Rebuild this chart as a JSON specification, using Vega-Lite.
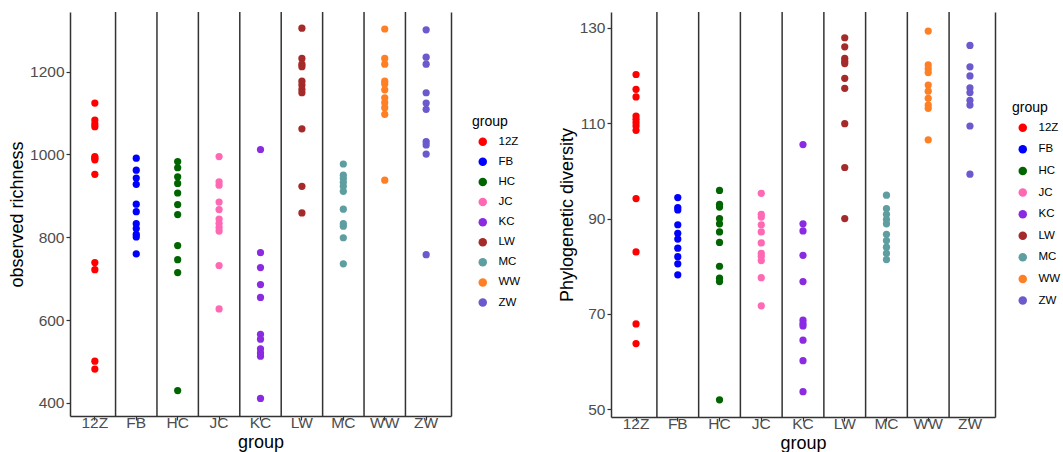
{
  "$schema": "https://vega.github.io/schema/vega-lite/v6.json",
  "autosize": {"type": "pad"},
  "padding": {"left": 8, "top": 11, "right": 0, "bottom": 0},
  "config": {
    "font": "Liberation Sans",
    "view": {"stroke": null},
    "concat": {"spacing": 37},
    "axis": {
      "grid": false,
      "domainColor": "#333333",
      "domainWidth": 1.5,
      "tickColor": "#333333",
      "tickSize": 4,
      "tickWidth": 1.2,
      "labelColor": "#4d4d4d",
      "labelFontSize": 15.5,
      "labelPadding": 2,
      "titleFontSize": 18,
      "titleFontWeight": "normal",
      "titleColor": "#000000",
      "titlePadding": 3
    },
    "legend": {
      "titleFontSize": 14,
      "titleFontWeight": "normal",
      "titleColor": "#000000",
      "labelFontSize": 11.5,
      "labelColor": "#000000",
      "symbolType": "circle",
      "symbolSize": 72,
      "symbolStrokeWidth": 0,
      "symbolOpacity": 1,
      "symbolOffset": 5,
      "labelOffset": 10,
      "titlePadding": 7
    }
  },
  "datasets": {
    "bounds": [
      {"group": "FB"}, {"group": "HC"}, {"group": "JC"}, {"group": "KC"},
      {"group": "LW"}, {"group": "MC"}, {"group": "WW"}, {"group": "ZW"}
    ],
    "richness": [
      {"group": "12Z", "value": 1124}, {"group": "12Z", "value": 1083}, {"group": "12Z", "value": 1074}, {"group": "12Z", "value": 1067},
      {"group": "12Z", "value": 995}, {"group": "12Z", "value": 991}, {"group": "12Z", "value": 987}, {"group": "12Z", "value": 952},
      {"group": "12Z", "value": 739}, {"group": "12Z", "value": 722}, {"group": "12Z", "value": 501}, {"group": "12Z", "value": 482},
      {"group": "FB", "value": 991}, {"group": "FB", "value": 962}, {"group": "FB", "value": 943}, {"group": "FB", "value": 928},
      {"group": "FB", "value": 880}, {"group": "FB", "value": 862}, {"group": "FB", "value": 833}, {"group": "FB", "value": 821},
      {"group": "FB", "value": 807}, {"group": "FB", "value": 801}, {"group": "FB", "value": 760},
      {"group": "HC", "value": 983}, {"group": "HC", "value": 968}, {"group": "HC", "value": 946}, {"group": "HC", "value": 930},
      {"group": "HC", "value": 907}, {"group": "HC", "value": 879}, {"group": "HC", "value": 855}, {"group": "HC", "value": 780},
      {"group": "HC", "value": 746}, {"group": "HC", "value": 715}, {"group": "HC", "value": 430},
      {"group": "JC", "value": 995}, {"group": "JC", "value": 934}, {"group": "JC", "value": 926}, {"group": "JC", "value": 885},
      {"group": "JC", "value": 867}, {"group": "JC", "value": 844}, {"group": "JC", "value": 834}, {"group": "JC", "value": 824},
      {"group": "JC", "value": 815}, {"group": "JC", "value": 732}, {"group": "JC", "value": 627},
      {"group": "KC", "value": 1012}, {"group": "KC", "value": 763}, {"group": "KC", "value": 727}, {"group": "KC", "value": 686},
      {"group": "KC", "value": 655}, {"group": "KC", "value": 566}, {"group": "KC", "value": 554}, {"group": "KC", "value": 531},
      {"group": "KC", "value": 521}, {"group": "KC", "value": 513}, {"group": "KC", "value": 411},
      {"group": "LW", "value": 1305}, {"group": "LW", "value": 1232}, {"group": "LW", "value": 1218}, {"group": "LW", "value": 1212},
      {"group": "LW", "value": 1177}, {"group": "LW", "value": 1168}, {"group": "LW", "value": 1157}, {"group": "LW", "value": 1149},
      {"group": "LW", "value": 1062}, {"group": "LW", "value": 923}, {"group": "LW", "value": 859},
      {"group": "MC", "value": 977}, {"group": "MC", "value": 950}, {"group": "MC", "value": 942}, {"group": "MC", "value": 933},
      {"group": "MC", "value": 923}, {"group": "MC", "value": 911}, {"group": "MC", "value": 868}, {"group": "MC", "value": 833},
      {"group": "MC", "value": 827}, {"group": "MC", "value": 799}, {"group": "MC", "value": 736},
      {"group": "WW", "value": 1303}, {"group": "WW", "value": 1232}, {"group": "WW", "value": 1218}, {"group": "WW", "value": 1177},
      {"group": "WW", "value": 1170}, {"group": "WW", "value": 1156}, {"group": "WW", "value": 1137}, {"group": "WW", "value": 1125},
      {"group": "WW", "value": 1113}, {"group": "WW", "value": 1097}, {"group": "WW", "value": 938},
      {"group": "ZW", "value": 1301}, {"group": "ZW", "value": 1235}, {"group": "ZW", "value": 1218}, {"group": "ZW", "value": 1149},
      {"group": "ZW", "value": 1124}, {"group": "ZW", "value": 1109}, {"group": "ZW", "value": 1031}, {"group": "ZW", "value": 1023},
      {"group": "ZW", "value": 1001}, {"group": "ZW", "value": 758}
    ],
    "pd": [
      {"group": "12Z", "value": 120.2}, {"group": "12Z", "value": 117.1}, {"group": "12Z", "value": 115.5}, {"group": "12Z", "value": 111.5},
      {"group": "12Z", "value": 110.8}, {"group": "12Z", "value": 110.1}, {"group": "12Z", "value": 109.4}, {"group": "12Z", "value": 108.5},
      {"group": "12Z", "value": 94.2}, {"group": "12Z", "value": 83.0}, {"group": "12Z", "value": 67.9}, {"group": "12Z", "value": 63.8},
      {"group": "FB", "value": 94.4}, {"group": "FB", "value": 92.3}, {"group": "FB", "value": 91.8}, {"group": "FB", "value": 88.7},
      {"group": "FB", "value": 86.9}, {"group": "FB", "value": 85.7}, {"group": "FB", "value": 83.8}, {"group": "FB", "value": 82.0},
      {"group": "FB", "value": 80.5}, {"group": "FB", "value": 78.2},
      {"group": "HC", "value": 95.9}, {"group": "HC", "value": 93.0}, {"group": "HC", "value": 92.4}, {"group": "HC", "value": 90.0},
      {"group": "HC", "value": 88.9}, {"group": "HC", "value": 87.2}, {"group": "HC", "value": 85.0}, {"group": "HC", "value": 80.0},
      {"group": "HC", "value": 77.5}, {"group": "HC", "value": 76.8}, {"group": "HC", "value": 52.0},
      {"group": "JC", "value": 95.3}, {"group": "JC", "value": 90.9}, {"group": "JC", "value": 90.3}, {"group": "JC", "value": 88.7},
      {"group": "JC", "value": 87.2}, {"group": "JC", "value": 84.9}, {"group": "JC", "value": 82.7}, {"group": "JC", "value": 82.1},
      {"group": "JC", "value": 81.2}, {"group": "JC", "value": 77.6}, {"group": "JC", "value": 71.7},
      {"group": "KC", "value": 105.5}, {"group": "KC", "value": 88.9}, {"group": "KC", "value": 87.4}, {"group": "KC", "value": 82.3},
      {"group": "KC", "value": 76.8}, {"group": "KC", "value": 68.7}, {"group": "KC", "value": 68.0}, {"group": "KC", "value": 67.5},
      {"group": "KC", "value": 64.5}, {"group": "KC", "value": 60.2}, {"group": "KC", "value": 53.7},
      {"group": "LW", "value": 127.9}, {"group": "LW", "value": 126.0}, {"group": "LW", "value": 123.6}, {"group": "LW", "value": 123.0},
      {"group": "LW", "value": 122.5}, {"group": "LW", "value": 119.4}, {"group": "LW", "value": 117.3}, {"group": "LW", "value": 109.9},
      {"group": "LW", "value": 100.7}, {"group": "LW", "value": 90.0},
      {"group": "MC", "value": 94.9}, {"group": "MC", "value": 92.1}, {"group": "MC", "value": 90.9}, {"group": "MC", "value": 89.8},
      {"group": "MC", "value": 88.9}, {"group": "MC", "value": 86.7}, {"group": "MC", "value": 85.4}, {"group": "MC", "value": 84.0},
      {"group": "MC", "value": 82.7}, {"group": "MC", "value": 81.4},
      {"group": "WW", "value": 129.3}, {"group": "WW", "value": 122.2}, {"group": "WW", "value": 121.4}, {"group": "WW", "value": 120.6},
      {"group": "WW", "value": 118.0}, {"group": "WW", "value": 116.7}, {"group": "WW", "value": 115.2}, {"group": "WW", "value": 113.8},
      {"group": "WW", "value": 113.1}, {"group": "WW", "value": 106.5},
      {"group": "ZW", "value": 126.3}, {"group": "ZW", "value": 121.8}, {"group": "ZW", "value": 119.9}, {"group": "ZW", "value": 117.4},
      {"group": "ZW", "value": 116.4}, {"group": "ZW", "value": 114.8}, {"group": "ZW", "value": 113.8}, {"group": "ZW", "value": 109.4},
      {"group": "ZW", "value": 99.3}
    ]
  },
  "hconcat": [
    {
      "width": 381,
      "height": 404,
      "layer": [
        {
          "data": {"name": "bounds"},
          "mark": {"type": "rule", "color": "#333333", "strokeWidth": 1.5},
          "encoding": {
            "x": {"field": "group", "type": "nominal", "bandPosition": 0}
          }
        },
        {
          "data": {"name": "richness"},
          "mark": {"type": "circle", "size": 52, "opacity": 1},
          "encoding": {
            "x": {
              "field": "group", "type": "nominal",
              "scale": {"type": "band", "domain": ["12Z", "FB", "HC", "JC", "KC", "LW", "MC", "WW", "ZW"], "paddingInner": 0, "paddingOuter": 0.1},
              "axis": {"title": "group", "labelAngle": 0, "labelAlign": "center", "bandPosition": 0.5, "titlePadding": 3}
            },
            "y": {
              "field": "value", "type": "quantitative",
              "scale": {"domain": [368.6, 1344], "nice": false, "zero": false},
              "axis": {"title": "observed richness", "values": [400, 600, 800, 1000, 1200], "format": "d"}
            },
            "color": {
              "field": "group", "type": "nominal",
              "scale": {"domain": ["12Z", "FB", "HC", "JC", "KC", "LW", "MC", "WW", "ZW"], "range": ["#FF0000", "#0000FF", "#006400", "#FF69B4", "#8A2BE2", "#A52A2A", "#5F9EA0", "#FF7F24", "#6A5ACD"]},
              "legend": {"title": "group", "orient": "none", "legendX": 402, "legendY": 103, "rowPadding": 7.1}
            }
          }
        },
        {
          "data": {"name": "richness"},
          "mark": {"type": "circle", "opacity": 0},
          "encoding": {
            "x": {"field": "group", "type": "nominal"},
            "y": {"field": "value", "type": "quantitative", "axis": {"orient": "right", "labels": false, "ticks": false, "title": null}}
          }
        }
      ],
      "resolve": {"axis": {"y": "independent"}}
    },
    {
      "width": 384,
      "height": 405,
      "layer": [
        {
          "data": {"name": "bounds"},
          "mark": {"type": "rule", "color": "#333333", "strokeWidth": 1.5},
          "encoding": {
            "x": {"field": "group", "type": "nominal", "bandPosition": 0}
          }
        },
        {
          "data": {"name": "pd"},
          "mark": {"type": "circle", "size": 52, "opacity": 1},
          "encoding": {
            "x": {
              "field": "group", "type": "nominal",
              "scale": {"type": "band", "domain": ["12Z", "FB", "HC", "JC", "KC", "LW", "MC", "WW", "ZW"], "paddingInner": 0, "paddingOuter": 0.1},
              "axis": {"title": "group", "labelAngle": 0, "labelAlign": "center", "bandPosition": 0.5, "titlePadding": 3}
            },
            "y": {
              "field": "value", "type": "quantitative",
              "scale": {"domain": [48.4, 133.3], "nice": false, "zero": false},
              "axis": {"title": "Phylogenetic diversity", "values": [50, 70, 90, 110, 130], "format": "d"}
            },
            "color": {
              "field": "group", "type": "nominal",
              "scale": {"domain": ["12Z", "FB", "HC", "JC", "KC", "LW", "MC", "WW", "ZW"], "range": ["#FF0000", "#0000FF", "#006400", "#FF69B4", "#8A2BE2", "#A52A2A", "#5F9EA0", "#FF7F24", "#6A5ACD"]},
              "legend": {"title": "group", "orient": "none", "legendX": 401, "legendY": 89, "rowPadding": 8.6}
            }
          }
        },
        {
          "data": {"name": "pd"},
          "mark": {"type": "circle", "opacity": 0},
          "encoding": {
            "x": {"field": "group", "type": "nominal"},
            "y": {"field": "value", "type": "quantitative", "axis": {"orient": "right", "labels": false, "ticks": false, "title": null}}
          }
        }
      ],
      "resolve": {"axis": {"y": "independent"}}
    }
  ],
  "resolve": {"scale": {"color": "independent"}, "legend": {"color": "independent"}}
}
